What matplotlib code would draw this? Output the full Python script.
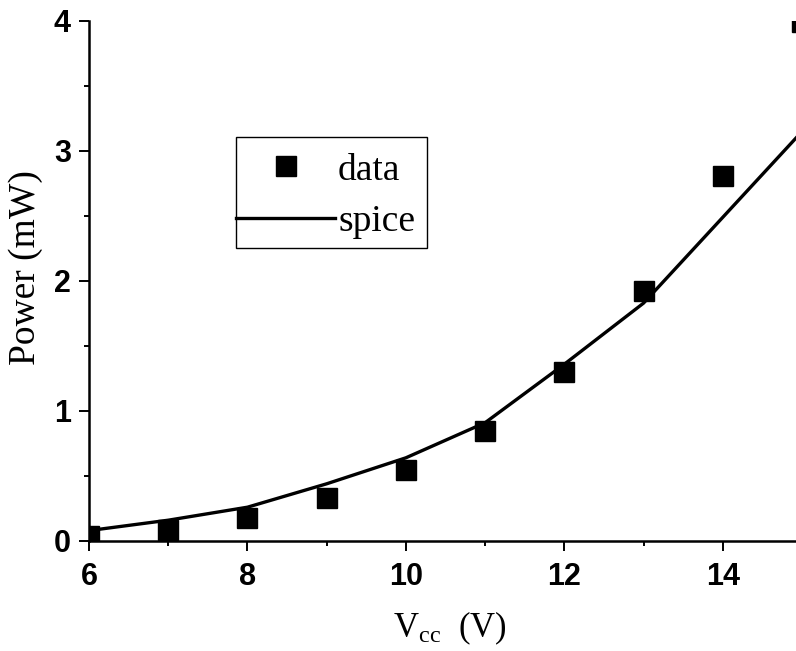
import matplotlib
matplotlib.use("Agg")
import matplotlib.pyplot as plt
from matplotlib.patches import Rectangle
from matplotlib.ticker import MultipleLocator

# Supply voltage (V) and measured / simulated output power (mW)
vcc_data = [6, 7, 8, 9, 10, 11, 12, 13, 14, 15]
power_data = [0.04, 0.085, 0.18, 0.33, 0.55, 0.85, 1.30, 1.92, 2.81, 3.99]

vcc_spice = [6, 7, 8, 9, 10, 11, 12, 13, 14, 15]
power_spice = [0.08, 0.16, 0.26, 0.44, 0.64, 0.91, 1.36, 1.83, 2.49, 3.15]

x_ticks = [6, 8, 10, 12, 14]
y_ticks = [0, 1, 2, 3, 4]

plt.rcParams['mathtext.fontset'] = 'custom'
plt.rcParams['mathtext.rm'] = 'Liberation Serif'
plt.rcParams['mathtext.it'] = 'Liberation Serif:italic'

W, H = 796, 651
fig = plt.figure(figsize=(W / 100, H / 100), dpi=100)

# axes extends slightly past the right edge of the figure
left_px, right_px, top_px, bottom_px = 89, 802, 21, 541
ax = fig.add_axes([left_px / W, 1 - bottom_px / H,
                   (right_px - left_px) / W, (bottom_px - top_px) / H])

ax.plot(vcc_spice, power_spice, color='black', lw=2.4, label='spice', zorder=2)
ax.plot(vcc_data, power_data, ls='none', marker='s', ms=14, color='black',
        label='data', zorder=3)

ax.set_xlim(6, 15)
ax.set_ylim(0, 4)
ax.set_xticks(x_ticks)
ax.set_yticks(y_ticks)
ax.xaxis.set_minor_locator(MultipleLocator(1))
ax.yaxis.set_minor_locator(MultipleLocator(0.5))

for s in ('top', 'right'):
    ax.spines[s].set_visible(False)
for s in ('left', 'bottom'):
    ax.spines[s].set_linewidth(1.8)

ax.tick_params(which='major', direction='out', length=7, width=1.4)
ax.tick_params(axis='x', which='major', pad=8)
ax.tick_params(axis='y', which='major', pad=6)
ax.tick_params(which='minor', direction='out', length=3.5, width=1.4)
for lab in ax.get_xticklabels() + ax.get_yticklabels():
    lab.set_fontfamily('Liberation Sans')
    lab.set_fontsize(22)
    lab.set_fontweight('bold')

ax.set_ylabel('Power (mW)', fontfamily='Liberation Serif', fontsize=27)
ax.yaxis.set_label_coords(-0.0645, 0.525)
ax.set_xlabel(r'V$_{\mathrm{cc}}$  (V)', fontfamily='Liberation Serif', fontsize=25)
ax.xaxis.set_label_coords(0.506, -0.132)

# legend entries, with a plain rectangular frame drawn separately
handles, labels = ax.get_legend_handles_labels()
order = [1, 0]
leg = ax.legend([handles[i] for i in order], [labels[i] for i in order],
                loc='center left',
                bbox_to_anchor=((236 - left_px) / (right_px - left_px),
                                (bottom_px - 196) / (bottom_px - top_px)),
                frameon=False, borderpad=0, borderaxespad=0,
                handlelength=2.64, handletextpad=0.08, labelspacing=0.45,
                prop={'family': 'Liberation Serif', 'size': 27})

frame = Rectangle((236 / W, 1 - 248 / H), (427 - 236) / W, (248 - 137) / H,
                  transform=fig.transFigure, fill=False, edgecolor='black',
                  lw=1.0, zorder=5)
fig.patches.append(frame)

fig.savefig('out.png', dpi=100)
